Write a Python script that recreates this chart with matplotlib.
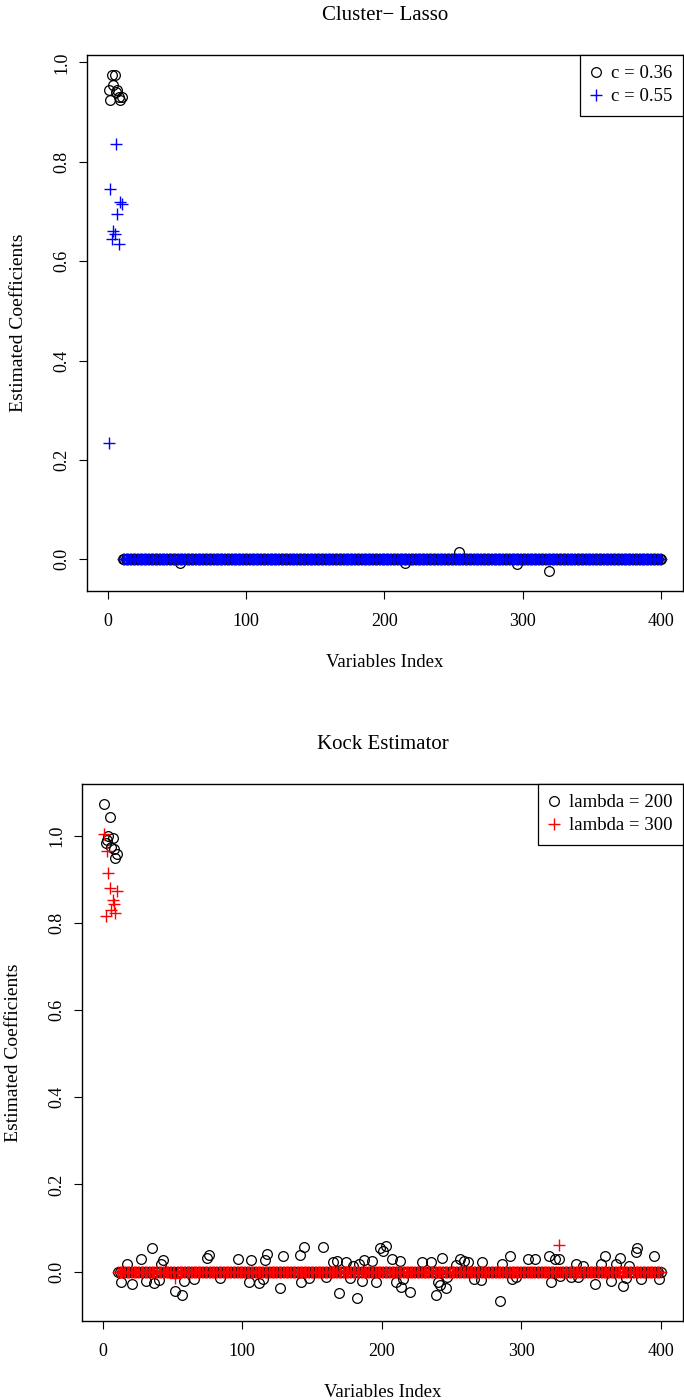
import numpy as np
import matplotlib
matplotlib.use("Agg")
import matplotlib.pyplot as plt

plt.rcParams['font.family'] = ['Liberation Serif', 'DejaVu Serif']

n_vars = 400
x_ticks = [0, 100, 200, 300, 400]
y_ticks = [0.0, 0.2, 0.4, 0.6, 0.8, 1.0]

# ---- Cluster-Lasso panel ----
lasso_c036_head = [0.945, 0.925, 0.975, 0.955, 0.975, 0.94, 0.945, 0.93, 0.925, 0.93]
lasso_c036_idx = [52, 215, 254, 296, 319]
lasso_c036_val = [-0.008, -0.007, 0.014, -0.010, -0.024]
lasso_c055_head = [0.233, 0.745, 0.645, 0.66, 0.655, 0.835, 0.695, 0.635, 0.72, 0.715]

# ---- Kock panel ----
kock_l200_head = [1.074, 0.985, 0.99, 1.0, 1.045, 0.975, 0.995, 0.97, 0.95, 0.96]
kock_l200_idx = [13, 17, 21, 27, 31, 35, 37, 40, 42, 43, 52, 57, 58, 65, 75, 76, 84, 97,
                 105, 106, 112, 115, 116, 118, 127, 129, 141, 142, 144, 148, 158, 160,
                 165, 168, 169, 174, 177, 179, 182, 184, 186, 187, 193, 196, 199, 201, 203,
                 207, 210, 213, 214, 215, 220, 229, 235, 239, 240, 242, 243, 246, 247,
                 253, 256, 259, 262, 266, 271, 272, 285, 286, 292, 293, 296, 305, 310,
                 320, 321, 324, 327, 328, 336, 339, 341, 344, 353, 357, 360, 364, 368,
                 371, 373, 375, 377, 382, 383, 386, 395, 399]
kock_l200_val = [-0.025, 0.017, -0.029, 0.028, -0.022, 0.053, -0.027, -0.020, 0.017, 0.027,
                 -0.045, -0.054, -0.022, -0.018, 0.030, 0.038, -0.016, 0.028,
                 -0.023, 0.027, -0.027, -0.018, 0.027, 0.040, -0.039, 0.035, 0.038, -0.024,
                 0.057, -0.014, 0.057, -0.012, 0.021, 0.025, -0.050, 0.021, -0.016, 0.013,
                 -0.061, 0.017, -0.022, 0.027, 0.025, -0.024, 0.055, 0.048, 0.058,
                 0.028, -0.024, 0.025, -0.035, -0.018, -0.047, 0.021, 0.021, -0.055, -0.024,
                 -0.031, 0.032, -0.037, -0.012, 0.015, 0.028, 0.025, 0.021, -0.018, -0.019,
                 0.022, -0.068, 0.017, 0.036, -0.018, -0.012, 0.028, 0.028,
                 0.036, -0.024, 0.028, 0.028, -0.010, -0.012, 0.017, -0.012, 0.012, -0.029,
                 0.017, 0.035, -0.022, 0.017, 0.030, -0.033, -0.014, 0.013, 0.045, 0.055,
                 -0.018, 0.035, -0.018]
kock_l300_head = [1.005, 0.816, 0.965, 0.915, 0.88, 0.831, 0.854, 0.843, 0.823, 0.873]
kock_l300_idx = [52, 327]
kock_l300_val = [-0.015, 0.062]


def build(head, idx, val):
    coef = np.zeros(n_vars)
    coef[:len(head)] = head
    for i, v in zip(idx, val):
        coef[i - 1] = v
    return coef


index = np.arange(1, n_vars + 1)
lasso_a = build(lasso_c036_head, lasso_c036_idx, lasso_c036_val)
lasso_b = build(lasso_c055_head, [], [])
kock_a = build(kock_l200_head, kock_l200_idx, kock_l200_val)
kock_b = build(kock_l300_head, kock_l300_idx, kock_l300_val)

W, H = 684, 1400
fig = plt.figure(figsize=(W / 100, H / 100), dpi=100)


def make_axes(left, top, right, bottom):
    return fig.add_axes([left / W, 1 - bottom / H, (right - left) / W, (bottom - top) / H])


def style(ax, title):
    ax.set_title(title, fontsize=15, pad=25)
    ax.set_xlabel("Variables Index", fontsize=13.5, labelpad=17)
    ax.set_ylabel("Estimated Coefficients", fontsize=14, labelpad=19)
    ax.set_xticks(x_ticks)
    ax.set_yticks(y_ticks)
    ax.set_yticklabels([f"{v:.1f}" for v in y_ticks], rotation=90, va='center')
    ax.tick_params(direction='out', length=6, width=0.8, labelsize=13)
    ax.tick_params(axis='x', pad=10)
    ax.tick_params(axis='y', pad=6)
    for s in ax.spines.values():
        s.set_linewidth(1.0)
    ax.margins(x=0.04, y=0.04)
    leg = ax.legend(loc='upper right', borderaxespad=0, fancybox=False, edgecolor='black',
                    framealpha=1, fontsize=13.5, handletextpad=0.5, handlelength=0.6,
                    borderpad=0.55, labelspacing=0.3)
    leg.get_frame().set_linewidth(0.9)


ax1 = make_axes(87, 55, 683, 591)
ax1.plot(index, lasso_a, linestyle='none', marker='o', markersize=7, markerfacecolor='none',
         markeredgecolor='black', markeredgewidth=0.9, label='c = 0.36')
ax1.plot(index, lasso_b, linestyle='none', marker='+', markersize=8.5, color='#0000FF',
         markeredgewidth=1.0, label='c = 0.55')
style(ax1, "Cluster\u2212 Lasso")

ax2 = make_axes(82, 784, 683, 1321)
ax2.plot(index, kock_a, linestyle='none', marker='o', markersize=7, markerfacecolor='none',
         markeredgecolor='black', markeredgewidth=0.9, label='lambda = 200')
ax2.plot(index, kock_b, linestyle='none', marker='+', markersize=8.5, color='#FF0000',
         markeredgewidth=1.0, label='lambda = 300')
style(ax2, "Kock Estimator")

fig.savefig("out.png", dpi=100, facecolor='white')
